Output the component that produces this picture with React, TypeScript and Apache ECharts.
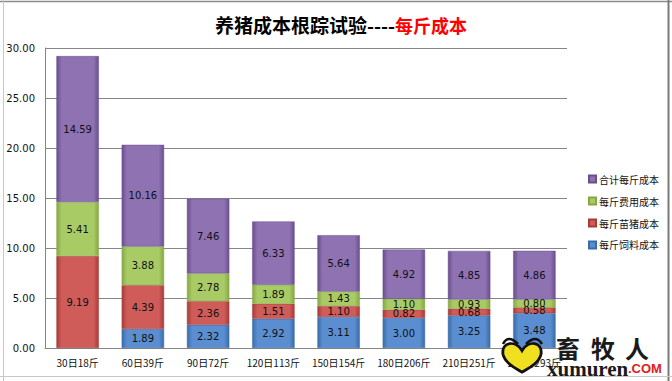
import React, { useEffect, useRef } from "react";
import * as echarts from "echarts";

const categories = ["30日18斤", "60日39斤", "90日72斤", "120日113斤", "150日154斤", "180日206斤", "210日251斤", "240日293斤"];
const feedCost = [null, 1.89, 2.32, 2.92, 3.11, 3.0, 3.25, 3.48];
const pigletCost = [9.19, 4.39, 2.36, 1.51, 1.1, 0.82, 0.68, 0.58];
const expenseCost = [5.41, 3.88, 2.78, 1.89, 1.43, 1.1, 0.93, 0.8];
const totalCost = [14.59, 10.16, 7.46, 6.33, 5.64, 4.92, 4.85, 4.86];
const yTicks = [0, 5, 10, 15, 20, 25, 30];

const names = ["每斤饲料成本", "每斤苗猪成本", "每斤费用成本", "合计每斤成本"];
const colors = [
  ["#3a6ca8", "#5a8ed0"],
  ["#a63c39", "#cf5c59"],
  ["#86a845", "#a9cb66"],
  ["#6a4e8e", "#8e72b2"],
];

const heartPath = "M0,-6 C-6,-18 -22,-16 -20,-2 C-18,8 -6,14 0,18 C6,14 18,8 20,-2 C22,-16 6,-18 0,-6 Z";
echarts.graphic.registerShape("heart", echarts.graphic.extendPath(heartPath, {}) as any);

function grad(c: string[]) {
  return new echarts.graphic.LinearGradient(0, 0, 1, 0, [
    { offset: 0, color: c[0] },
    { offset: 0.12, color: c[1] },
    { offset: 0.88, color: c[1] },
    { offset: 1, color: c[0] },
  ]);
}

export default function App() {
  const ref = useRef<HTMLDivElement>(null);
  useEffect(() => {
    if (!ref.current) return;
    const chart = echarts.init(ref.current, null, { renderer: "svg" });
    const dataSets = [feedCost, pigletCost, expenseCost, totalCost];
    chart.setOption({
      animation: false,
      backgroundColor: "#ffffff",
      textStyle: { fontFamily: "DejaVu Sans" },
      title: {
        text: "{a|养猪成本根踪试验----}{b|每斤成本}",
        left: 336,
        textAlign: "center",
        top: 10,
        textStyle: {
          rich: {
            a: { fontSize: 19, fontWeight: "bold", color: "#000", fontFamily: "Noto Sans CJK SC" },
            b: { fontSize: 18, fontWeight: "bold", color: "#ff0000", fontFamily: "Noto Sans CJK SC" },
          },
        },
      },
      legend: {
        orient: "vertical",
        left: 583,
        top: 169,
        itemWidth: 7,
        itemHeight: 7,
        itemGap: 12,
        icon: "rect",
        data: ["合计每斤成本", "每斤费用成本", "每斤苗猪成本", "每斤饲料成本"],
        textStyle: { fontSize: 10, color: "#111", fontFamily: "Noto Sans CJK SC", padding: [0, 0, 0, -2] },
      },
      grid: { left: 45, right: 105, top: 48, bottom: 33 },
      xAxis: {
        type: "category",
        data: categories,
        axisLine: { lineStyle: { color: "#868686" } },
        axisTick: { show: false },
        axisLabel: { fontSize: 10, color: "#111", margin: 9, fontFamily: "Noto Sans CJK SC", interval: 0 },
      },
      yAxis: {
        type: "value",
        min: yTicks[0],
        max: yTicks[yTicks.length - 1],
        interval: 5,
        axisLine: { show: true, lineStyle: { color: "#868686" } },
        axisTick: { show: false },
        splitLine: { lineStyle: { color: "#868686" } },
        axisLabel: { fontSize: 10, color: "#111", margin: 10, formatter: (v: number) => v.toFixed(2) },
      },
      series: names.map((n, i) => ({
        name: n,
        type: "bar",
        stack: "cost",
        barWidth: "65%",
        data: dataSets[i],
        itemStyle: { color: grad(colors[i]), borderColor: colors[i][0], borderWidth: 0.5 },
        label: {
          show: true,
          position: "inside",
          fontSize: 10,
          color: "#111",
          formatter: (p: any) => (p.value == null ? "" : Number(p.value).toFixed(2)),
        },
      })),
      color: colors.map((c) => c[1]),
      graphic: [
        { type: "line", shape: { x1: 0, y1: 1.5, x2: 672, y2: 1.5 }, style: { stroke: "#8a8a8a", lineWidth: 1.5 } },
        { type: "line", shape: { x1: 3.5, y1: 0, x2: 3.5, y2: 381 }, style: { stroke: "#b8cbe0", lineWidth: 1 } },
        { type: "line", shape: { x1: 668.5, y1: 0, x2: 668.5, y2: 381 }, style: { stroke: "#7a7a7a", lineWidth: 2 } },
        { type: "line", shape: { x1: 0, y1: 376.5, x2: 672, y2: 376.5 }, style: { stroke: "#c8c8c8", lineWidth: 1 } },
        {
          type: "heart",
          x: 522,
          y: 356,
          scaleX: 0.95,
          scaleY: 0.9,
          z: 100,
          style: { fill: "#f0e020", stroke: "#111", lineWidth: 3 },
        },
        {
          type: "bezierCurve",
          z: 100,
          shape: { x1: 503, y1: 344, x2: 518, y2: 344, cpx1: 508, cpy1: 334 },
          style: { stroke: "#111", lineWidth: 2.5, fill: null },
        },
        {
          type: "bezierCurve",
          z: 100,
          shape: { x1: 526, y1: 344, x2: 542, y2: 344, cpx1: 536, cpy1: 334 },
          style: { stroke: "#111", lineWidth: 2.5, fill: null },
        },
        { type: "text", z: 100, x: 556, y: 335, style: { text: "畜", fontSize: 24, fontWeight: "bold", fill: "#1a1a1a", fontFamily: "Noto Sans CJK SC" } },
        { type: "text", z: 100, x: 591, y: 335, style: { text: "牧", fontSize: 24, fontWeight: "bold", fill: "#1a1a1a", fontFamily: "Noto Sans CJK SC" } },
        { type: "text", z: 100, x: 625, y: 335, style: { text: "人", fontSize: 24, fontWeight: "bold", fill: "#1a1a1a", fontFamily: "Noto Sans CJK SC" } },
        {
          type: "text",
          z: 100,
          x: 547,
          y: 358,
          style: { text: "xumuren", fontSize: 21, fontWeight: "bold", fill: "#1a1a1a", fontFamily: "Liberation Serif" },
        },
        {
          type: "text",
          z: 100,
          x: 628,
          y: 362,
          style: { text: ".COM", fontSize: 13, fontWeight: "bold", fill: "#e02020", fontFamily: "Liberation Sans" },
        },
      ],
    });
    return () => chart.dispose();
  }, []);
  return <div ref={ref} style={{ width: 672, height: 381, position: "absolute", left: 0, top: 0 }} />;
}
